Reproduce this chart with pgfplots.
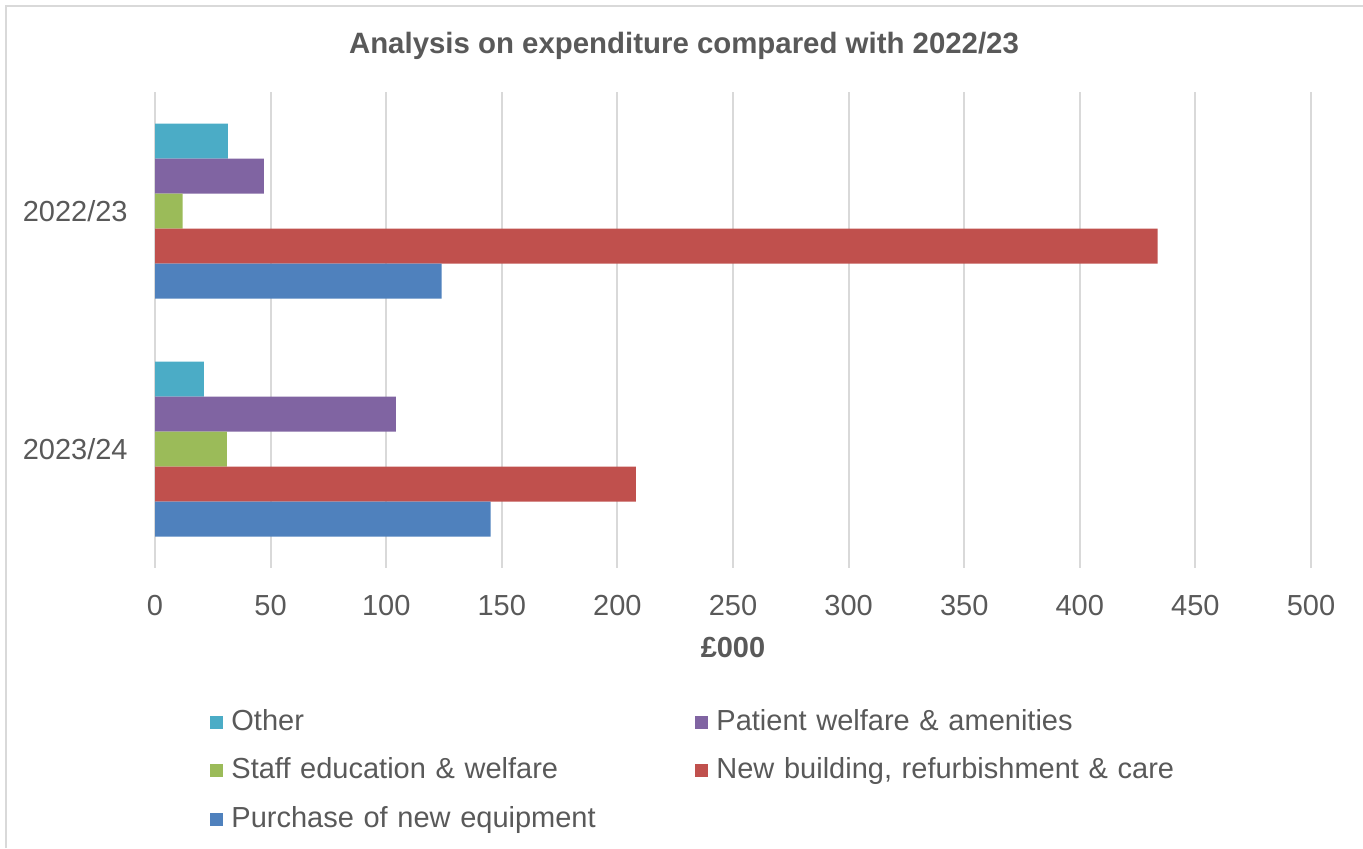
\documentclass[border=0pt]{standalone}
\usepackage{fontspec}
\setmainfont{Liberation Sans}
\usepackage{pgfplots}
\pgfplotsset{compat=1.18}
\definecolor{cOther}{HTML}{4BACC6}
\definecolor{cPatient}{HTML}{8064A2}
\definecolor{cStaff}{HTML}{9BBB59}
\definecolor{cNew}{HTML}{C0504D}
\definecolor{cPurchase}{HTML}{4F81BD}
\definecolor{gridc}{HTML}{D9D9D9}
\definecolor{txt}{HTML}{595959}
\begin{document}
\begin{tikzpicture}
\useasboundingbox (0,0) rectangle (681.5pt,-424pt);
\draw[color=gridc, line width=1pt] (3pt,-424pt) -- (3pt,-3pt) -- (681.5pt,-3pt);
\node[font=\fontsize{14.7}{17}\selectfont\bfseries, text=txt, anchor=base, inner sep=0pt] at (342pt,-26.5pt) {Analysis on expenditure compared with 2022/23};
\begin{axis}[
 at={(77.5pt,-284pt)}, anchor=south west,
 scale only axis, width=578pt, height=238pt,
 xbar=0pt, bar width=17.5pt,
 xmin=0, xmax=500, xtick={0,50,...,500},
 ymin=-0.5, ymax=1.5, ytick={0,1}, yticklabels={2022/23,2023/24}, y dir=reverse,
 axis line style={draw=none}, major tick length=0pt,
 xmajorgrids, grid style={draw=gridc, line width=1pt},
 ticklabel style={font=\fontsize{14.5}{17}\selectfont, text=txt, inner sep=0pt},
 xticklabel style={yshift=-13.5pt},
 yticklabel style={xshift=-13.5pt},
 /pgf/number format/assume math mode=true,
 xlabel={£000},
 every axis x label/.style={at={(axis description cs:0.5,0)}, anchor=north, yshift=-34.5pt, inner sep=0pt, font=\fontsize{14.5}{17}\selectfont\bfseries, text=txt},
 legend columns=2,
 legend style={draw=none, fill=none, inner sep=0pt, at={(0.0476,-0.2941)}, anchor=north west, font=\fontsize{14.5}{17}\selectfont, text=txt, row sep=10.25pt, nodes={inner sep=0pt, text height=11pt, text depth=3pt, text width=232pt, align=left}, /tikz/every odd column/.append style={column sep=4pt}},
 legend image code/.code={\fill[#1] (0pt,-3.25pt) rectangle (6.5pt,3.25pt);},
]
\addplot[fill=cOther, draw=none, bar shift=35pt] coordinates {(31.5,0) (21.1,1)};
\addlegendentry{Other}
\addplot[fill=cPatient, draw=none, bar shift=17.5pt] coordinates {(47.1,0) (104.2,1)};
\addlegendentry{Patient welfare \& amenities}
\addplot[fill=cStaff, draw=none, bar shift=0pt] coordinates {(12.0,0) (31.1,1)};
\addlegendentry{Staff education \& welfare}
\addplot[fill=cNew, draw=none, bar shift=-17.5pt] coordinates {(433.7,0) (208.0,1)};
\addlegendentry{New building, refurbishment \& care}
\addplot[fill=cPurchase, draw=none, bar shift=-35pt] coordinates {(124.0,0) (145.2,1)};
\addlegendentry{Purchase of new equipment}
\end{axis}
\end{tikzpicture}
\end{document}
